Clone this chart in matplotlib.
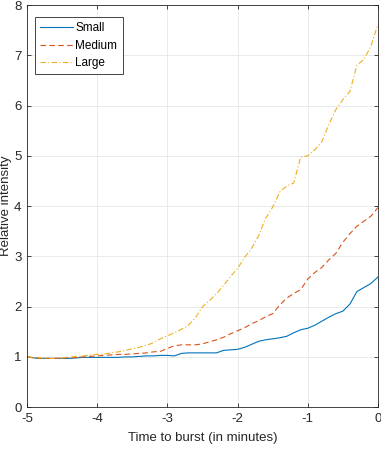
import numpy as np
import matplotlib
matplotlib.use("Agg")
import matplotlib.pyplot as plt

plt.rcParams['font.family'] = ['Liberation Sans', 'DejaVu Sans']
plt.rcParams['axes.unicode_minus'] = False

# time to burst (minutes)
t = [-5.0, -4.9, -4.8, -4.7, -4.6, -4.5, -4.4, -4.3, -4.2, -4.1,
     -4.0, -3.9, -3.8, -3.7, -3.6, -3.5, -3.4, -3.3, -3.2, -3.1,
     -3.0, -2.9, -2.8, -2.7, -2.6, -2.5, -2.4, -2.3, -2.2, -2.1,
     -2.0, -1.9, -1.8, -1.7, -1.6, -1.5, -1.4, -1.3, -1.2, -1.1,
     -1.0, -0.9, -0.8, -0.7, -0.6, -0.5, -0.4, -0.3, -0.2, -0.1, 0.0]

small = [1.00, 0.98, 0.97, 0.97, 0.97, 0.97, 0.97, 0.98, 0.99, 0.99,
         0.99, 0.99, 0.99, 0.99, 1.00, 1.00, 1.01, 1.02, 1.02, 1.03,
         1.03, 1.02, 1.07, 1.08, 1.08, 1.08, 1.08, 1.08, 1.13, 1.14,
         1.15, 1.19, 1.25, 1.31, 1.34, 1.36, 1.38, 1.41, 1.48, 1.54,
         1.57, 1.63, 1.71, 1.79, 1.86, 1.91, 2.05, 2.30, 2.38, 2.46, 2.59]

medium = [1.00, 0.98, 0.97, 0.97, 0.97, 0.98, 0.98, 0.99, 1.00, 1.01,
          1.02, 1.03, 1.04, 1.05, 1.05, 1.06, 1.07, 1.08, 1.10, 1.11,
          1.17, 1.22, 1.24, 1.24, 1.24, 1.26, 1.30, 1.34, 1.39, 1.46,
          1.52, 1.58, 1.66, 1.72, 1.80, 1.86, 2.03, 2.17, 2.26, 2.34,
          2.55, 2.68, 2.78, 2.93, 3.06, 3.28, 3.45, 3.60, 3.70, 3.80, 3.97]

large = [1.00, 0.99, 0.98, 0.97, 0.97, 0.98, 0.99, 1.01, 1.02, 1.04,
         1.05, 1.06, 1.08, 1.10, 1.13, 1.16, 1.19, 1.23, 1.28, 1.36,
         1.42, 1.48, 1.55, 1.63, 1.78, 2.00, 2.12, 2.26, 2.42, 2.60,
         2.76, 2.98, 3.16, 3.41, 3.76, 3.98, 4.28, 4.40, 4.46, 4.98,
         5.00, 5.12, 5.28, 5.62, 5.92, 6.12, 6.28, 6.80, 6.92, 7.18, 7.62]

fig = plt.figure(figsize=(3.81, 4.58), dpi=100)
ax = fig.add_axes([0.071, 0.111, 0.921, 0.878])

ax.plot(t, small, '-', color=(0, 0.447, 0.741), linewidth=0.8, label='Small')
ax.plot(t, medium, color=(0.85, 0.325, 0.098), linewidth=0.8,
        dashes=(5, 3), label='Medium')
ax.plot(t, large, color=(0.929, 0.694, 0.125), linewidth=0.8,
        dashes=(5, 2, 1, 2), label='Large')

ax.set_xlim(-5, 0)
ax.set_ylim(0, 8)
ax.set_xticks([-5, -4, -3, -2, -1, 0])
ax.set_yticks(range(0, 9))
ax.grid(True, color='#e6e6e6', linewidth=0.6)
ax.set_axisbelow(True)
ax.tick_params(direction='in', top=True, right=True, length=3, width=0.6,
               labelsize=9.5, colors='#262626', pad=4)
for s in ax.spines.values():
    s.set_color('#262626')
    s.set_linewidth(0.6)

ax.set_xlabel('Time to burst (in minutes)', fontsize=9.5, color='#262626', labelpad=5)
ax.set_ylabel('Relative intensity', fontsize=9.5, color='#262626')
ax.yaxis.set_label_coords(-0.042, 0.5)

leg = ax.legend(loc='upper left', bbox_to_anchor=(0.022, 0.97), fontsize=8.5,
                fancybox=False, framealpha=1, edgecolor='#262626',
                handlelength=2.8, handletextpad=0.2, borderpad=0.45,
                labelspacing=0.45, borderaxespad=0)
leg.get_frame().set_linewidth(0.6)

fig.savefig('out.png', dpi=100)
